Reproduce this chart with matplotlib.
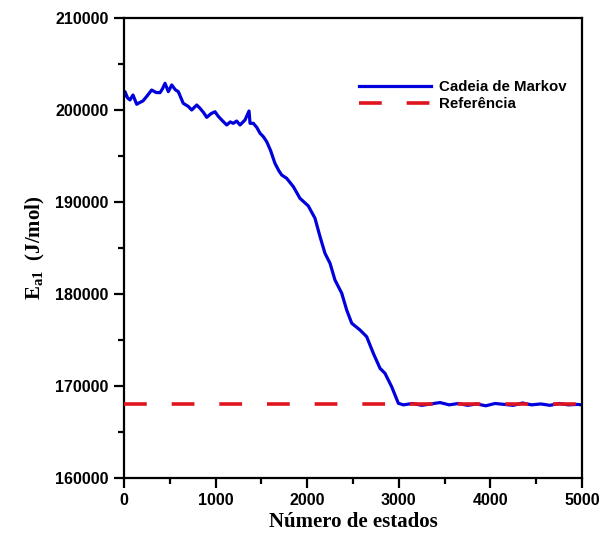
import matplotlib
matplotlib.use("Agg")
import matplotlib.pyplot as plt
from matplotlib.ticker import MultipleLocator

plt.rcParams["mathtext.fontset"] = "custom"
plt.rcParams["mathtext.rm"] = "Liberation Serif:bold"
plt.rcParams["mathtext.bf"] = "Liberation Serif:bold"
plt.rcParams["mathtext.it"] = "Liberation Serif:bold"

# trace of the Markov chain
estados = [0, 11, 40, 65, 98, 139, 170, 207, 250, 302, 350, 393, 420, 448,
           484, 521, 560, 593, 647, 700, 739, 794, 830, 870, 903, 950, 993,
           1030, 1067, 1121, 1160, 1193, 1230, 1266, 1321, 1365, 1376, 1412,
           1450, 1485, 1521, 1558, 1600, 1648, 1690, 1722, 1776, 1849, 1921,
           2012, 2085, 2140, 2194, 2249, 2303, 2377, 2431, 2486, 2576, 2649,
           2722, 2795, 2849, 2922, 2995, 3050, 3150, 3250, 3350, 3450, 3550,
           3650, 3750, 3850, 3950, 4050, 4150, 4250, 4350, 4450, 4550, 4650,
           4750, 4850, 4950, 5000]
ea1 = [201500, 201990, 201300, 201090, 201630, 200620, 200800, 200980, 201500,
       202170, 201900, 201880, 202300, 202900, 201990, 202720, 202200, 201990,
       200720, 200400, 200000, 200540, 200180, 199700, 199200, 199600, 199810,
       199300, 198910, 198370, 198700, 198550, 198800, 198370, 198910, 199890,
       198550, 198550, 198100, 197470, 197100, 196550, 195600, 194200, 193400,
       192930, 192570, 191660, 190400, 189570, 188230, 186230, 184420, 183340,
       181520, 180080, 178260, 176820, 176090, 175360, 173550, 171920, 171380,
       169920, 168120, 167950, 168100, 167900, 168050, 168200, 167950, 168100,
       167900, 168050, 167850, 168100, 168000, 167900, 168150, 167950, 168050,
       167900, 168100, 167950, 168000, 167950]

referencia = 168000

fig = plt.figure(figsize=(6.09, 5.43), dpi=100)
ax = fig.add_axes([0.2036, 0.1197, 0.7521, 0.8472])

ax.plot(estados, ea1, color="#0000dd", lw=2.3, label="Cadeia de Markov", zorder=2)
ax.axhline(referencia, color="#e0141e", lw=2.6, dashes=(6.3, 6.9),
           label="Referência", zorder=3)

ax.set_xlim(0, 5000)
ax.set_ylim(160000, 210000)
ax.xaxis.set_major_locator(MultipleLocator(1000))
ax.xaxis.set_minor_locator(MultipleLocator(500))
ax.yaxis.set_major_locator(MultipleLocator(10000))
ax.yaxis.set_minor_locator(MultipleLocator(5000))

ax.tick_params(which="both", direction="out", width=1.6, top=False, right=False)
ax.tick_params(which="major", length=7, pad=4)
ax.tick_params(which="minor", length=4.5)
for lab in ax.get_xticklabels() + ax.get_yticklabels():
    lab.set_family("Liberation Sans")
    lab.set_fontweight("bold")
    lab.set_fontsize(11.5)
for s in ax.spines.values():
    s.set_linewidth(1.6)

ax.set_xlabel("Número de estados", family="Liberation Serif", fontweight="bold",
              fontsize=15, labelpad=3)
ax.set_ylabel(r"E$_{\mathrm{a1}}$  (J/mol)", family="Liberation Serif",
              fontweight="bold", fontsize=15, labelpad=6)

ax.legend(loc="upper right", bbox_to_anchor=(0.995, 0.895), frameon=False,
          prop={"family": "Liberation Sans", "weight": "bold", "size": 10.8},
          handlelength=4.8, handletextpad=0.5, labelspacing=0.22)

fig.savefig("out.png", dpi=100)
